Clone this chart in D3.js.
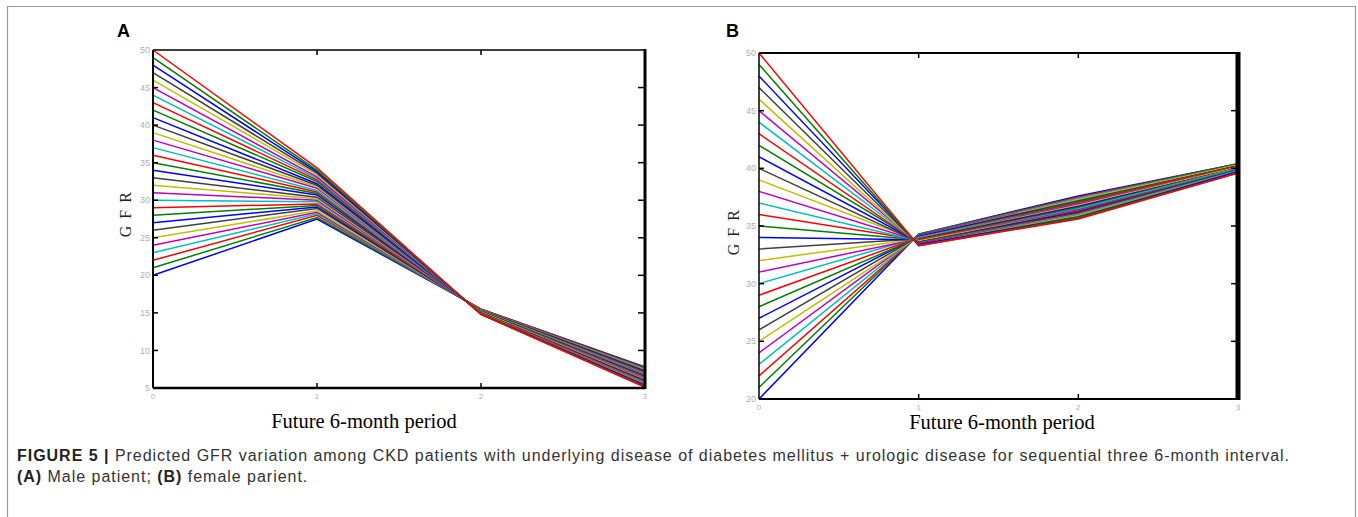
<!DOCTYPE html>
<html>
<head>
<meta charset="utf-8">
<script src="https://cdn.jsdelivr.net/npm/d3@7"></script>
<style>
  html, body { margin: 0; padding: 0; background: #fff; }
  svg { display: block; }
</style>
</head>
<body>
<div id="chart"></div>
<script>
// GFR projections, two panels (male / female)
const periods = [0, 1, 2, 3];

// Panel A - male patient, one line per starting GFR
const aStart = [20, 21, 22, 23, 24, 25, 26, 27, 28, 29, 30, 31, 32, 33, 34, 35, 36, 37, 38, 39, 40, 41, 42, 43, 44, 45, 46, 47, 48, 49, 50];
const aP1 = [27.5, 27.7, 28.0, 28.2, 28.4, 28.6, 28.9, 29.1, 29.3, 29.5, 29.8, 30.0, 30.2, 30.4, 30.7, 30.9, 31.1, 31.3, 31.6, 31.8, 32.0, 32.2, 32.5, 32.7, 32.9, 33.1, 33.4, 33.6, 33.8, 34.0, 34.3];
const aP2 = [15.5, 15.5, 15.5, 15.4, 15.4, 15.4, 15.4, 15.3, 15.3, 15.3, 15.3, 15.2, 15.2, 15.2, 15.2, 15.2, 15.1, 15.1, 15.1, 15.1, 15.0, 15.0, 15.0, 15.0, 14.9, 14.9, 14.9, 14.9, 14.8, 14.8, 14.8];
const aP3 = [7.8, 7.7, 7.6, 7.5, 7.4, 7.4, 7.3, 7.2, 7.1, 7.0, 6.9, 6.8, 6.7, 6.6, 6.6, 6.5, 6.4, 6.3, 6.2, 6.1, 6.0, 5.9, 5.8, 5.8, 5.7, 5.6, 5.5, 5.4, 5.3, 5.2, 5.1];

// Panel B - female patient
const bStart = [20, 21, 22, 23, 24, 25, 26, 27, 28, 29, 30, 31, 32, 33, 34, 35, 36, 37, 38, 39, 40, 41, 42, 43, 44, 45, 46, 47, 48, 49, 50];
const bP1 = [34.3, 34.3, 34.2, 34.2, 34.2, 34.1, 34.1, 34.1, 34.0, 34.0, 34.0, 33.9, 33.9, 33.9, 33.8, 33.8, 33.8, 33.7, 33.7, 33.7, 33.6, 33.6, 33.6, 33.5, 33.5, 33.5, 33.4, 33.4, 33.4, 33.3, 33.3];
const bP2 = [37.6, 37.5, 37.5, 37.4, 37.3, 37.3, 37.2, 37.1, 37.1, 37.0, 36.9, 36.9, 36.8, 36.7, 36.7, 36.6, 36.5, 36.5, 36.4, 36.3, 36.3, 36.2, 36.1, 36.1, 36.0, 35.9, 35.9, 35.8, 35.7, 35.7, 35.6];
const bP3 = [40.4, 40.4, 40.3, 40.3, 40.3, 40.3, 40.2, 40.2, 40.2, 40.2, 40.1, 40.1, 40.1, 40.0, 40.0, 40.0, 40.0, 40.0, 39.9, 39.9, 39.9, 39.8, 39.8, 39.8, 39.8, 39.7, 39.7, 39.7, 39.7, 39.6, 39.6];

// Axis ticks
const xTicks = [0, 1, 2, 3];
const yTicksA = [5, 10, 15, 20, 25, 30, 35, 40, 45, 50];
const yTicksB = [20, 25, 30, 35, 40, 45, 50];

// old matlab colour order: b g r c m y k
const lineColors = ['#0000ff', '#008000', '#ff0000', '#00bfbf', '#bf00bf', '#bfbf00', '#404040'];

const W = 1358, H = 517;

const svg = d3.select('#chart').append('svg')
  .attr('width', W)
  .attr('height', H);

// outer frame of the figure
svg.append('path')
  .attr('d', `M7.5,${H} V6.5 H1355.5 V${H}`)
  .attr('fill', 'none')
  .attr('stroke', '#9a9a9a')
  .attr('stroke-width', 1.2);

function drawPanel(cfg) {
  const x = d3.scaleLinear().domain([0, 3]).range(cfg.xRange);
  const y = d3.scaleLinear().domain(cfg.yDomain).range(cfg.yRange);
  const g = svg.append('g');

  const series = cfg.start.map((s, i) => [s, cfg.p1[i], cfg.p2[i], cfg.p3[i]]);

  const line = d3.line()
    .x((d, i) => x(periods[i]))
    .y(d => y(d));

  g.selectAll('path.gfr')
    .data(series)
    .join('path')
    .attr('class', 'gfr')
    .attr('d', line)
    .attr('fill', 'none')
    .attr('stroke', (d, i) => lineColors[i % lineColors.length])
    .attr('stroke-width', 1.5);

  const [x0, x1] = cfg.xRange;
  const [yb, yt] = cfg.yRange;
  const tl = 5;

  // inward ticks
  cfg.yTicks.forEach(v => {
    if (v === cfg.yDomain[0] || v === cfg.yDomain[1]) return;
    g.append('line').attr('x1', x0).attr('x2', x0 + tl).attr('y1', y(v)).attr('y2', y(v))
      .attr('stroke', '#000').attr('stroke-width', 1.5);
    g.append('line').attr('x1', x1).attr('x2', x1 - tl - 2).attr('y1', y(v)).attr('y2', y(v))
      .attr('stroke', '#000').attr('stroke-width', 1.5);
  });
  xTicks.slice(1, 3).forEach(v => {
    g.append('line').attr('x1', x(v)).attr('x2', x(v)).attr('y1', yb).attr('y2', yb - tl)
      .attr('stroke', '#000').attr('stroke-width', 1.5);
    g.append('line').attr('x1', x(v)).attr('x2', x(v)).attr('y1', yt).attr('y2', yt + tl)
      .attr('stroke', '#000').attr('stroke-width', 1.5);
  });

  // box
  g.append('line').attr('x1', x0).attr('x2', x1).attr('y1', yt).attr('y2', yt)
    .attr('stroke', '#000').attr('stroke-width', cfg.topW);
  g.append('line').attr('x1', x0).attr('x2', x0).attr('y1', yt).attr('y2', yb)
    .attr('stroke', '#000').attr('stroke-width', cfg.leftW);
  g.append('line').attr('x1', x0).attr('x2', x1).attr('y1', yb).attr('y2', yb)
    .attr('stroke', '#000').attr('stroke-width', cfg.bottomW);
  g.append('line').attr('x1', x1).attr('x2', x1).attr('y1', yt - 1).attr('y2', yb + 1)
    .attr('stroke', '#000').attr('stroke-width', cfg.rightW);

  // tick labels (faint, as in the scanned figure)
  g.selectAll('text.ylab')
    .data(cfg.yTicks)
    .join('text')
    .attr('class', 'ylab')
    .attr('x', x0 - 3)
    .attr('y', d => y(d))
    .attr('dy', '0.35em')
    .attr('text-anchor', 'end')
    .attr('font-family', 'Liberation Sans, Arial, sans-serif')
    .attr('font-size', '9px')
    .attr('fill', '#b0b0b0')
    .text(d => d);

  g.selectAll('text.xlab')
    .data(xTicks)
    .join('text')
    .attr('class', 'xlab')
    .attr('x', d => x(d))
    .attr('y', yb + 11)
    .attr('text-anchor', 'middle')
    .attr('font-family', 'Liberation Sans, Arial, sans-serif')
    .attr('font-size', '8px')
    .attr('fill', '#b0b0b0')
    .text(d => d);

  // axis titles
  g.append('text')
    .attr('x', cfg.xTitleX)
    .attr('y', cfg.xTitleY)
    .attr('text-anchor', 'middle')
    .attr('font-family', 'Liberation Serif, Times New Roman, serif')
    .attr('font-size', '20.5px')
    .attr('fill', '#000')
    .text('Future 6-month period');

  g.append('text')
    .attr('transform', `translate(${cfg.yTitleX},${cfg.yTitleY}) rotate(-90)`)
    .attr('text-anchor', 'middle')
    .attr('font-family', 'Liberation Serif, Times New Roman, serif')
    .attr('font-size', '16px')
    .attr('letter-spacing', '1.5px')
    .attr('fill', '#222')
    .text('G F R');

  // panel letter
  svg.append('text')
    .attr('x', cfg.letterX)
    .attr('y', 37)
    .attr('font-family', 'Liberation Sans, Arial, sans-serif')
    .attr('font-weight', 'bold')
    .attr('font-size', '18px')
    .attr('fill', '#000')
    .text(cfg.letter);
}

drawPanel({
  letter: 'A', letterX: 117,
  start: aStart, p1: aP1, p2: aP2, p3: aP3,
  xRange: [153, 645], yDomain: [5, 50], yRange: [388, 50],
  yTicks: yTicksA,
  topW: 1.5, leftW: 2, bottomW: 2.5, rightW: 3,
  xTitleX: 364, xTitleY: 428, yTitleX: 131, yTitleY: 214
});

drawPanel({
  letter: 'B', letterX: 726,
  start: bStart, p1: bP1, p2: bP2, p3: bP3,
  xRange: [759, 1238], yDomain: [20, 50], yRange: [399, 53],
  yTicks: yTicksB,
  topW: 2, leftW: 1.5, bottomW: 2, rightW: 5,
  xTitleX: 1002, xTitleY: 429, yTitleX: 739, yTitleY: 232
});

// caption
const cap = svg.append('g')
  .attr('font-family', 'Liberation Sans, Arial, Helvetica, sans-serif')
  .attr('font-size', '16px')
  .attr('fill', '#333');

const line1 = cap.append('text').attr('x', 17).attr('y', 461);
line1.append('tspan').attr('font-weight', 'bold').attr('fill', '#222').text('FIGURE 5 | ');
line1.append('tspan').text('Predicted GFR variation among CKD patients with underlying disease of diabetes mellitus + urologic disease for sequential three 6-month interval.');

const line2 = cap.append('text').attr('x', 17).attr('y', 482);
line2.append('tspan').attr('font-weight', 'bold').attr('fill', '#222').text('(A)');
line2.append('tspan').text(' Male patient; ');
line2.append('tspan').attr('font-weight', 'bold').attr('fill', '#222').text('(B)');
line2.append('tspan').text(' female parient.');

// stretch letter spacing so the first line ends where the printed one does
const target = 1290 - 17;
const natural = line1.node().getComputedTextLength();
const nChars = line1.text().length;
const ls = Math.max(0, (target - natural) / nChars);
cap.attr('letter-spacing', ls.toFixed(3) + 'px');
</script>
</body>
</html>
